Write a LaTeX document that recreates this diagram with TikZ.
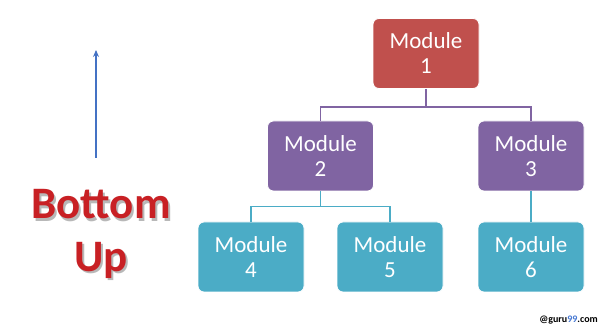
\documentclass[tikz,border=0pt]{standalone}
\usepackage{fontspec}
\setmainfont{Carlito}
\usetikzlibrary{arrows.meta}
\definecolor{modred}{RGB}{192,80,77}
\definecolor{modpurple}{RGB}{128,100,162}
\definecolor{modteal}{RGB}{75,172,198}
\definecolor{arrowblue}{RGB}{68,114,196}
\definecolor{titlered}{RGB}{200,32,36}
\definecolor{wmblue}{RGB}{70,120,210}
\newcommand{\shadowtext}[1]{\makebox[0pt][l]{\hspace{2pt}\raisebox{-2pt}{\textcolor{black!28}{#1}}}\textcolor{titlered}{#1}}
\tikzset{
  modbox/.style={rounded corners=6pt, minimum width=106pt, minimum height=70pt,
    inner sep=0pt, align=center, text=white, draw=white, line width=0.8pt,
    font=\fontsize{23}{25}\selectfont},
  purpleline/.style={draw=modpurple, line width=1.3pt},
  tealline/.style={draw=modteal, line width=1.3pt},
  titletext/.style={font=\fontsize{45}{50}\selectfont\bfseries, anchor=base},
}
\begin{document}
\begin{tikzpicture}[x=1pt,y=-1pt]
\useasboundingbox[fill=white] (0,0) rectangle (606,326);
% nodes
\node[modbox, fill=modred] (m1) at (426,53.5) {Module\\1};
\node[modbox, fill=modpurple] (m2) at (320.5,156) {Module\\2};
\node[modbox, fill=modpurple] (m3) at (531,156) {Module\\3};
\node[modbox, fill=modteal] (m4) at (251,257) {Module\\4};
\node[modbox, fill=modteal] (m5) at (390,257) {Module\\5};
\node[modbox, fill=modteal] (m6) at (531,257) {Module\\6};
% connectors
\draw[purpleline] (m1.south) -- ++(0,18) coordinate (j1);
\draw[purpleline] (m2.north) |- (j1) -| (m3.north);
\draw[tealline] (m2.south) -- ++(0,15) coordinate (j2);
\draw[tealline] (m4.north) |- (j2) -| (m5.north);
\draw[tealline] (m3.south) -- (m6.north);
% arrow
\coordinate (a0) at (96,158);
\coordinate (a1) at (96,50);
\draw[arrowblue, line width=1.2pt, -{Stealth[length=7pt,width=6pt]}] (a0) -- (a1);
% title with shadow
\node[titletext] (b) at (101,219) {\shadowtext{Bottom}};
\node[titletext] (u) at (101,272) {\shadowtext{Up}};
% watermark
\node[font=\fontsize{10}{12}\selectfont\bfseries, anchor=east, inner sep=0pt] (wm) at (598,320) {@guru\textcolor{wmblue}{99}.com};
\end{tikzpicture}
\end{document}
